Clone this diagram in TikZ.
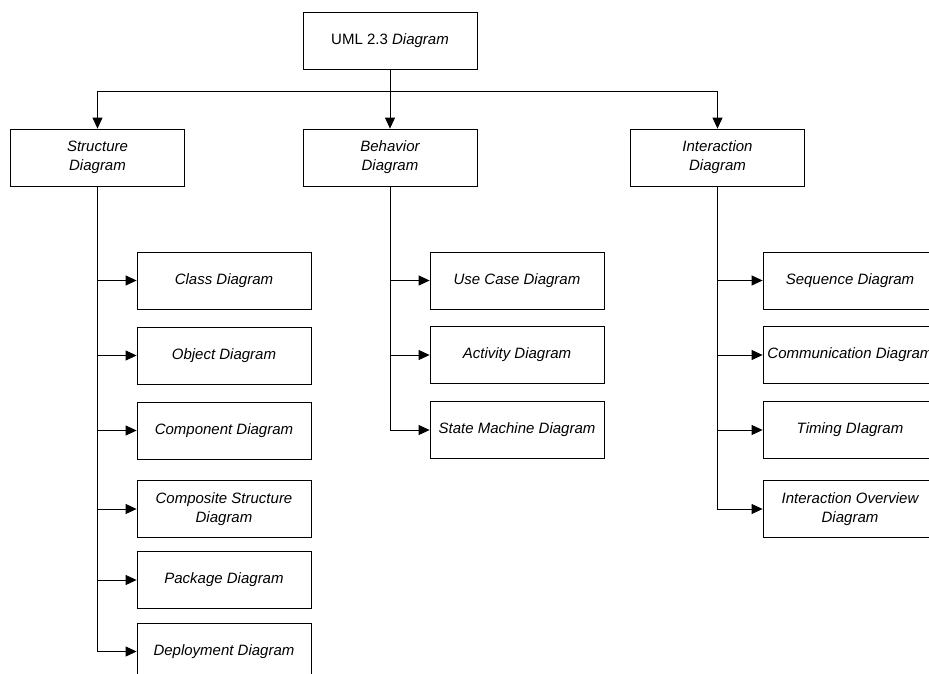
\documentclass[tikz,border=0pt]{standalone}
\usepackage{fontspec}
\setmainfont{Liberation Sans}
\usetikzlibrary{arrows.meta}

\tikzset{
  box/.style={draw, minimum width=174pt, minimum height=57pt, inner sep=0pt,
    align=center, font=\fontsize{15}{19}\selectfont\itshape},
  conn/.style={-{Triangle[length=11pt,width=10pt]}}
}

\begin{document}
\begin{tikzpicture}[x=1pt, y=-1pt, line width=0.8pt]
        \useasboundingbox (0,0) rectangle (929,673);
        \node[box, font=\fontsize{15}{19}\selectfont] (uml) at (390,41) {UML 2.3 \textit{Diagram}};
        \node[box] (struct) at (97.5,157.5) {Structure\\Diagram};
        \node[box] (behav) at (390,157.5) {Behavior\\Diagram};
        \node[box] (inter) at (717.5,157.5) {Interaction\\Diagram};
        \coordinate (bus) at (390,91);
        \draw (uml) -- (bus);
        \draw[conn] (bus) -| (struct);
        \draw[conn] (bus) -- (behav);
        \draw[conn] (bus) -| (inter);
        % structure diagrams
        \foreach \n/\y/\t in {cls/280.5/Class Diagram, obj/355.5/Object Diagram,
                cmp/430.5/Component Diagram, cst/509/{Composite Structure\\Diagram},
                pkg/580/Package Diagram, dep/651.5/Deployment Diagram} {
            \node[box] (\n) at (224,\y) {\t};
            \draw[conn] (struct) |- (\n);
        }
        % behavior diagrams
        \foreach \n/\y/\t in {uc/280.5/Use Case Diagram, act/355/Activity Diagram,
                sm/430/State Machine Diagram} {
            \node[box] (\n) at (517,\y) {\t};
            \draw[conn] (behav) |- (\n);
        }
        % interaction diagrams
        \foreach \n/\y/\t in {seq/280.5/Sequence Diagram, com/355/Communication Diagram,
                tim/430/Timing DIagram, iov/509/{Interaction Overview\\Diagram}} {
            \node[box] (\n) at (850,\y) {\t};
            \draw[conn] (inter) |- (\n);
        }
    \end{tikzpicture}
\end{document}
